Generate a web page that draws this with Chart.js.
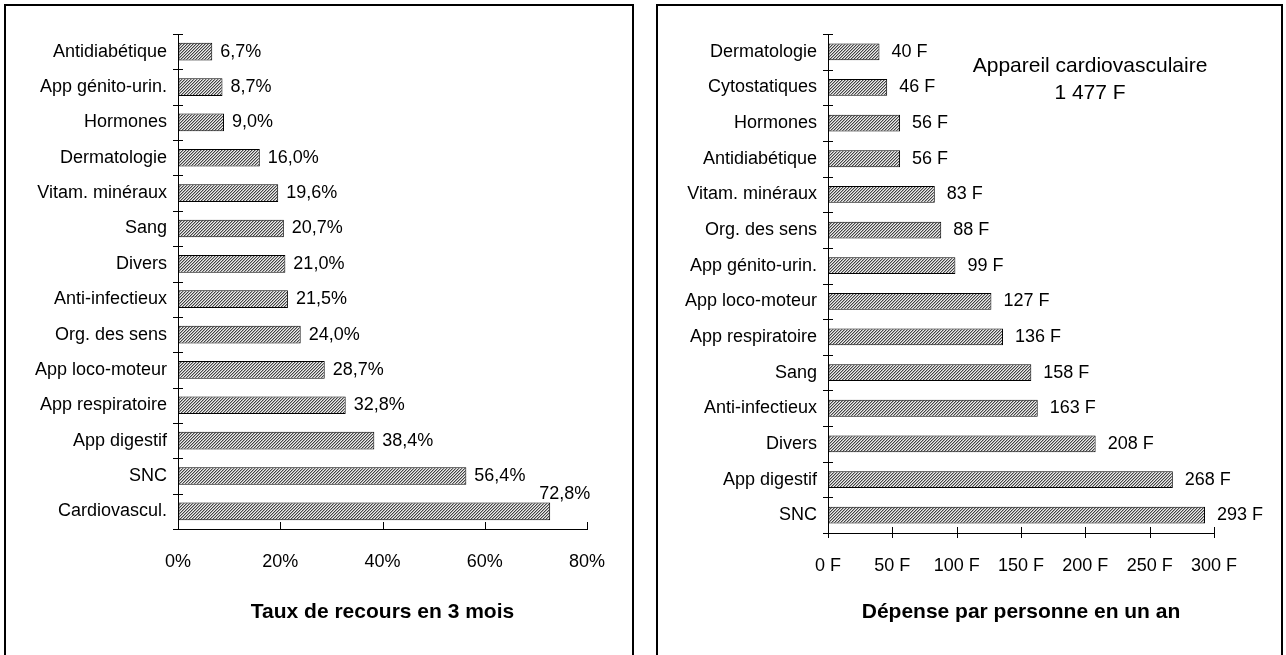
<!DOCTYPE html>
<html>
<head>
<meta charset="utf-8">
<script src="https://cdn.jsdelivr.net/npm/chart.js@4/dist/chart.umd.min.js"></script>
<style>
  body { margin: 0; background: #fff; overflow: hidden; width: 1286px; height: 655px; position: relative; }
  .panel { position: absolute; top: 4px; border: 2px solid #000; height: 700px; }
  .wrap { position: absolute; top: 6px; height: 649px; }
</style>
</head>
<body>
<div class="panel" style="left:4px; width:626px;"></div>
<div class="panel" style="left:656px; width:623px;"></div>
<div class="wrap" style="left:6px; width:626px;"><canvas id="left-chart"></canvas></div>
<div class="wrap" style="left:658px; width:623px;"><canvas id="right-chart"></canvas></div>
<script>
// left: usage rate over 3 months
const leftCategories = ["Antidiabétique", "App génito-urin.", "Hormones", "Dermatologie", "Vitam. minéraux",
    "Sang", "Divers", "Anti-infectieux", "Org. des sens", "App loco-moteur", "App respiratoire",
    "App digestif", "SNC", "Cardiovascul."];
const leftValues = [6.7, 8.7, 9.0, 16.0, 19.6, 20.7, 21.0, 21.5, 24.0, 28.7, 32.8, 38.4, 56.4, 72.8];
const leftTickLabels = ["0%", "20%", "40%", "60%", "80%"];

// right: spending per person per year
const rightCategories = ["Dermatologie", "Cytostatiques", "Hormones", "Antidiabétique", "Vitam. minéraux",
    "Org. des sens", "App génito-urin.", "App loco-moteur", "App respiratoire", "Sang",
    "Anti-infectieux", "Divers", "App digestif", "SNC"];
const rightValues = [40, 46, 56, 56, 83, 88, 99, 127, 136, 158, 163, 208, 268, 293];
const rightTickLabels = ["0 F", "50 F", "100 F", "150 F", "200 F", "250 F", "300 F"];

const FONT = "'Liberation Sans', Arial, sans-serif";
Chart.defaults.font.family = FONT;
Chart.defaults.color = "#000";

// fine diagonal hatching, reads as mid grey
function hatch() {
    const c = document.createElement("canvas");
    c.width = 3; c.height = 3;
    const g = c.getContext("2d");
    const shades = ["#444", "#aaa", "#eee"];
    for (let yy = 0; yy < 3; yy++) {
        for (let xx = 0; xx < 3; xx++) {
            g.fillStyle = shades[(xx + yy + 1) % 3];
            g.fillRect(xx, yy, 1, 1);
        }
    }
    return g.createPattern(c, "repeat");
}

const axisMarks = {
    id: "axisMarks",
    afterDraw(chart, args, opts) {
        const {ctx, chartArea, scales: {x, y}} = chart;
        ctx.save();
        ctx.strokeStyle = "#000";
        ctx.lineWidth = 1;
        ctx.beginPath();
        for (let i = 0; i <= chart.data.labels.length; i++) {
            const py = Math.round(y.getPixelForValue(i - 0.5)) + 0.5;
            ctx.moveTo(chartArea.left - 5, py);
            ctx.lineTo(chartArea.left + 5, py);
        }
        x.ticks.forEach(t => {
            const px = Math.round(x.getPixelForValue(t.value)) + 0.5;
            ctx.moveTo(px, chartArea.bottom - opts.up);
            ctx.lineTo(px, chartArea.bottom + opts.down);
        });
        ctx.stroke();
        ctx.restore();
    }
};

const valueLabels = {
    id: "valueLabels",
    afterDatasetsDraw(chart, args, opts) {
        const {ctx, chartArea} = chart;
        const data = chart.data.datasets[0].data;
        ctx.save();
        ctx.font = "18px " + FONT;
        ctx.fillStyle = "#000";
        ctx.textBaseline = "middle";
        chart.getDatasetMeta(0).data.forEach((bar, i) => {
            const text = opts.format(data[i]);
            const w = ctx.measureText(text).width;
            let tx = bar.x + opts.gap;
            let ty = bar.y;
            if (opts.lift && tx + w > chartArea.right + 15) {
                tx = bar.x - 11;
                ty = bar.y - bar.height / 2 - 8;
            }
            ctx.fillText(text, tx, ty);
        });
        if (opts.note) {
            ctx.font = "21px " + FONT;
            ctx.textAlign = "center";
            opts.note.forEach((line, i) => ctx.fillText(line, opts.noteX, opts.noteY + i * 27));
        }
        ctx.restore();
    }
};

function makeChart(id, labels, values, tickLabels, max, step, title, cfg) {
    const ctx = document.getElementById(id).getContext("2d");
    return new Chart(ctx, {
        type: "bar",
        data: {
            labels: labels,
            datasets: [{
                data: values,
                backgroundColor: hatch(),
                borderColor: "#000",
                borderWidth: 1,
                borderSkipped: false,
                barPercentage: cfg.bar,
                categoryPercentage: 1
            }]
        },
        plugins: [axisMarks, valueLabels],
        options: {
            indexAxis: "y",
            responsive: true,
            maintainAspectRatio: false,
            animation: false,
            layout: {
                padding: {top: 28, right: cfg.padRight, left: 0, bottom: 0}
            },
            plugins: {
                legend: {display: false},
                tooltip: {enabled: false},
                axisMarks: {up: cfg.up, down: cfg.down},
                valueLabels: cfg.labels
            },
            scales: {
                x: {
                    min: 0,
                    max: max,
                    afterFit: s => { s.height = cfg.xHeight; },
                    grid: {drawOnChartArea: false, drawTicks: false},
                    border: {display: true, color: "#000", width: 1},
                    ticks: {
                        stepSize: step,
                        padding: 22,
                        font: {size: 18},
                        callback: (v, i) => tickLabels[i]
                    },
                    title: {
                        display: true,
                        text: title,
                        font: {size: 21, weight: "bold"},
                        padding: {top: 0, bottom: 30}
                    }
                },
                y: {
                    afterFit: s => { s.width = cfg.yWidth; },
                    grid: {drawOnChartArea: false, drawTicks: false},
                    border: {display: true, color: "#000", width: 1},
                    ticks: {padding: 11, font: {size: 18}}
                }
            }
        }
    });
}

makeChart("left-chart", leftCategories, leftValues, leftTickLabels, 80, 20, "Taux de recours en 3 mois", {
    bar: 0.5, padRight: 45, xHeight: 126, yWidth: 172, up: 7, down: 0,
    labels: {gap: 8, lift: true, format: v => v.toFixed(1).replace(".", ",") + "%"}
});

makeChart("right-chart", rightCategories, rightValues, rightTickLabels, 300, 50, "Dépense par personne en un an", {
    bar: 0.47, padRight: 67, xHeight: 122, yWidth: 170, up: 6, down: 5,
    labels: {gap: 12, lift: false, format: v => v + " F",
             note: ["Appareil cardiovasculaire", "1 477 F"], noteX: 432, noteY: 60}
});
</script>
</body>
</html>
